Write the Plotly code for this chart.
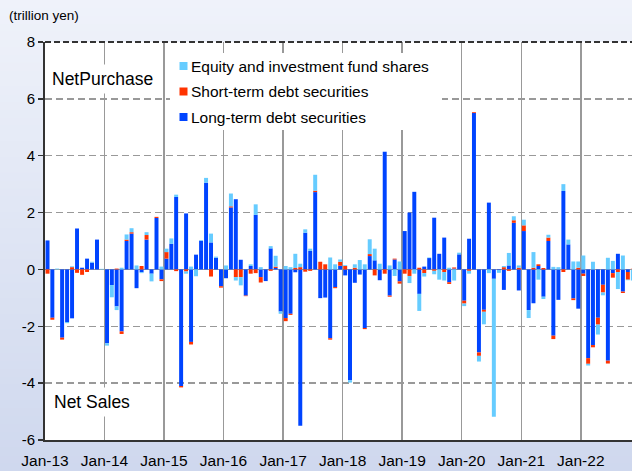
import plotly.graph_objects as go
import pandas as pd

# ---------------- data (trillion yen, monthly from Jan-2013) ----------------
months = pd.date_range("2013-01-01", periods=119, freq="MS").strftime("%Y-%m").tolist()

long_term = [
    1.02, -1.70, 0.00, -2.40, -1.85, -1.72, 1.44, 0.06, 0.38, 0.24, 1.05, 0.00,
    -2.60, -0.55, -1.30, -2.18, 1.00, 1.26, -0.66, -0.10, 1.05, -0.15, 1.81, -0.35,
    0.38, 0.90, 2.55, -4.10, 1.97, -2.55, 0.52, 1.01, 3.05, 0.95, 0.41, -0.59,
    -0.31, 2.18, 2.47, 0.34, -0.92, 0.12, 1.92, -0.27, -0.41, 0.74, 0.05, -1.48,
    -1.71, -1.56, -0.10, -5.50, 1.29, 0.65, 2.72, -1.01, -0.99, -2.42, -0.62, 0.13,
    -0.21, -3.90, -0.47, -0.18, -2.06, 0.47, 0.32, -0.38, 4.14, -0.92, 0.35, -0.42,
    1.35, 2.00, 2.73, -0.86, 0.10, 0.40, 1.82, 0.55, 1.12, -0.45, 0.03, 0.53,
    -1.10, 1.08, 5.50, -2.92, -1.42, 2.35, -0.33, -0.02, -0.72, 0.14, 1.64, -0.74,
    1.35, -1.43, -1.19, 0.12, -0.96, 1.00, -2.33, -1.07, 2.76, 0.88, -1.02, -1.38,
    -0.15, -3.12, -2.66, -1.70, -0.54, -3.21, -0.13, 0.55, -0.78, -0.09, 0.00,
]
short_term = [
    -0.15, -0.07, 0.00, -0.07, 0.00, 0.08, -0.12, -0.19, -0.09, 0.00, 0.00, 0.00,
    0.00, 0.00, 0.03, -0.09, 0.05, 0.05, 0.00, 0.12, 0.16, 0.00, 0.04, -0.06,
    0.23, 0.00, -0.06, -0.05, -0.07, -0.09, 0.00, 0.00, 0.00, -0.25, 0.00, -0.05,
    0.00, 0.04, -0.27, -0.27, -0.02, -0.15, -0.13, -0.19, 0.00, -0.05, 0.05, 0.00,
    -0.11, -0.04, 0.05, 0.08, -0.08, -0.05, 0.05, 0.27, 0.18, -0.05, -0.04, 0.14,
    0.12, 0.00, 0.06, 0.00, -0.04, 0.07, -0.21, 0.00, -0.15, -0.04, 0.03, -0.08,
    -0.15, -0.23, 0.00, 0.06, -0.13, 0.00, -0.05, 0.00, -0.09, -0.06, 0.04, 0.00,
    -0.10, -0.05, 0.03, -0.12, -0.07, 0.00, 0.00, 0.00, 0.08, -0.05, 0.09, 0.06,
    0.20, 0.00, 0.06, 0.06, 0.05, 0.12, -0.12, 0.00, -0.09, 0.00, -0.06, 0.06,
    -0.08, -0.20, -0.08, -0.24, -0.27, -0.10, -0.16, -0.09, -0.05, -0.27, 0.02,
]
equity = [
    0.00, 0.00, 0.03, 0.00, -0.04, 0.03, 0.00, 0.00, 0.00, 0.03, 0.00, 0.02,
    -0.08, -0.43, -0.13, 0.06, 0.18, 0.14, 0.14, -0.03, 0.10, -0.27, 0.00, 0.10,
    0.12, 0.19, 0.08, 0.00, -0.08, 0.10, -0.24, 0.02, 0.17, 0.31, 0.04, 0.00,
    0.14, 0.45, -0.12, -0.29, 0.00, 0.06, 0.37, 0.08, 0.00, 0.08, 0.38, -0.08,
    0.12, 0.08, 0.50, 0.12, 0.12, 0.08, 0.56, 0.00, 0.00, 0.42, 0.18, 0.08,
    0.03, -0.08, 0.12, 0.33, 0.18, 0.52, 0.41, 0.20, 0.00, 0.14, -0.23, 0.28,
    0.00, -0.25, -0.15, -0.60, -0.12, 0.02, -0.12, -0.36, -0.30, 0.06, -0.39, 0.06,
    -0.09, -0.10, 0.00, -0.20, -0.44, -0.13, -4.85, -0.10, 0.04, 0.44, 0.14, 0.08,
    0.20, -0.28, 0.55, -0.36, -0.08, 0.10, 0.09, 0.08, 0.24, 0.17, 0.28, 0.22,
    0.49, -0.06, 0.27, -0.35, -0.10, 0.41, 0.30, -0.60, 0.49, -0.02, -0.39,
]
assert len(long_term) == len(short_term) == len(equity) == len(months)

series_names = ["Long-term debt securities", "Short-term debt securities",
                "Equity and investment fund shares"]
series_colors = ["#0044ff", "#ff3300", "#66ccff"]
series_values = [long_term, short_term, equity]

y_ticks = [-6, -4, -2, 0, 2, 4, 6, 8]

# ---------------- figure ----------------
W, H = 632, 471
ML, MR, MT, MB = 45, 0, 42, 31
PW, PH = W - ML - MR, H - MT - MB
FONT = "Liberation Sans, Arial, sans-serif"


def px_x(px):
    return (px - ML) / PW


def px_y(py):
    return (H - MB - py) / PH


fig = go.Figure()
month_ms = 30.44 * 24 * 3600 * 1000
for name, color, vals in zip(series_names, series_colors, series_values):
    fig.add_trace(go.Bar(
        x=months, y=vals, name=name,
        xperiod="M1", xperiodalignment="middle",
        width=0.8 * month_ms,
        marker=dict(color=color, line=dict(width=0)),
        showlegend=False,
    ))

shapes = []
# background gradient
N = 60
top_c, bot_c = (239, 242, 250), (207, 216, 238)
for k in range(N):
    t = k / (N - 1)
    c = tuple(round(top_c[j] + (bot_c[j] - top_c[j]) * t) for j in range(3))
    y0 = H * k / N
    y1 = H * (k + 1) / N + 1
    shapes.append(dict(type="rect", xref="paper", yref="paper",
                       x0=px_x(-2), x1=px_x(W + 2), y0=px_y(y1), y1=px_y(y0),
                       fillcolor="rgb(%d,%d,%d)" % c, line=dict(width=0), layer="below"))
# white plot area
shapes.append(dict(type="rect", xref="paper", yref="paper", x0=0, x1=1, y0=0, y1=1,
                   fillcolor="white", line=dict(width=0), layer="below"))
# dashed top border
shapes.append(dict(type="line", xref="paper", yref="paper", x0=0, x1=1, y0=1, y1=1,
                   line=dict(color="#333333", width=2, dash="6px,3px"), layer="above"))
# legend box
shapes.append(dict(type="rect", xref="paper", yref="paper",
                   x0=px_x(170), x1=px_x(442), y0=px_y(130), y1=px_y(53),
                   fillcolor="white", line=dict(width=0), layer="above"))
legend_rows = [66, 91.5, 117]
legend_order = [2, 1, 0]
annotations = []
for row_y, idx in zip(legend_rows, legend_order):
    shapes.append(dict(type="rect", xref="paper", yref="paper",
                       x0=px_x(179.5), x1=px_x(187.5), y0=px_y(row_y + 4), y1=px_y(row_y - 4),
                       fillcolor=series_colors[idx], line=dict(width=0), layer="above"))
    annotations.append(dict(xref="paper", yref="paper", x=px_x(190), y=px_y(row_y),
                            xanchor="left", yanchor="middle", showarrow=False,
                            text=series_names[idx], borderpad=0,
                            font=dict(family=FONT, size=15.5, color="black")))

annotations += [
    dict(xref="paper", yref="paper", x=px_x(102), y=px_y(78.5), xanchor="center",
         yanchor="middle", showarrow=False, text="NetPurchase", bgcolor="white",
         borderpad=4, font=dict(family=FONT, size=17.5, color="black")),
    dict(xref="paper", yref="paper", x=px_x(92), y=px_y(402), xanchor="center",
         yanchor="middle", showarrow=False, text="Net Sales", bgcolor="white",
         borderpad=4, font=dict(family=FONT, size=17.5, color="black")),
    dict(xref="paper", yref="paper", x=px_x(7), y=px_y(15), xanchor="left",
         yanchor="middle", showarrow=False, text="(trillion yen)",
         font=dict(family=FONT, size=13.5, color="black")),
]

fig.update_layout(
    width=W, height=H,
    margin=dict(l=ML, r=MR, t=MT, b=MB, pad=0),
    barmode="relative",
    paper_bgcolor="rgb(222,228,244)",
    plot_bgcolor="rgba(0,0,0,0)",
    font=dict(family=FONT, size=15, color="black"),
    shapes=shapes,
    annotations=annotations,
    showlegend=False,
    xaxis=dict(
        type="date",
        range=["2013-01-01", "2022-11-11"],
        tick0="2013-01-01", dtick="M12", tickformat="%b-%y",
        ticklabelmode="instant",
        showgrid=True, gridcolor="#999999", gridwidth=1.5,
        showline=True, linecolor="#333333", linewidth=2,
        ticks="outside", ticklen=0, ticklabelstandoff=5,
        tickfont=dict(family=FONT, size=15.5, color="black"),
        zeroline=False, fixedrange=True,
    ),
    yaxis=dict(
        range=[-6, 8], tickvals=y_ticks, ticktext=[str(v) for v in y_ticks],
        showgrid=True, gridcolor="#999999", gridwidth=1.5, griddash="7px,4px",
        zeroline=True, zerolinecolor="#999999", zerolinewidth=1.5,
        showline=True, linecolor="#333333", linewidth=2,
        ticks="outside", ticklen=5, tickwidth=1.5, tickcolor="#333333",
        tickfont=dict(family=FONT, size=15, color="black"),
        fixedrange=True,
    ),
)

page_fix = ("document.body.style.margin='0';"
            "document.documentElement.style.overflow='hidden';")
fig.write_html("out.html", post_script=page_fix,
               config={"displayModeBar": False, "staticPlot": True})
